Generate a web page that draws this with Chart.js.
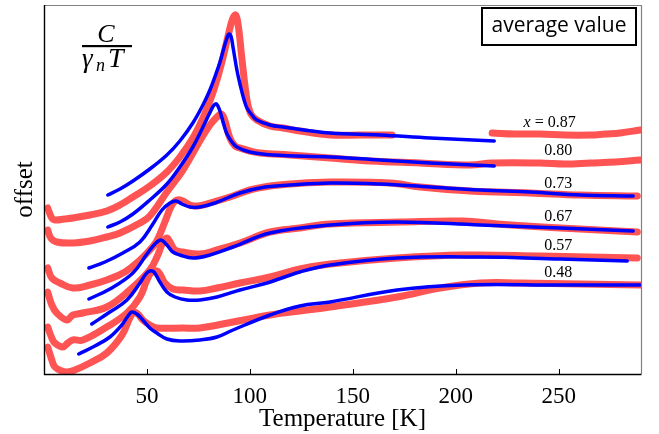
<!DOCTYPE html>
<html>
<head>
<meta charset="utf-8">
<script src="https://cdn.jsdelivr.net/npm/chart.js@4/dist/chart.umd.min.js"></script>
<style>
  html, body { margin: 0; padding: 0; background: #fff; }
  #wrap { width: 659px; height: 434px; }
</style>
</head>
<body>
<div id="wrap"><canvas id="c" width="659" height="434"></canvas></div>
<script>
// ---- data: [Temperature (K), offset C/(gamma_n T)] ----
const tickValues = [50, 100, 150, 200, 250];
const seriesNames = ['0.87', '0.80', '0.73', '0.67', '0.57', '0.48'];

const data087 = [[1.8,16.6],[3.8,15.6],[5.3,15.4],[10,15.5],[14,15.6],[22.3,15.9],[30.5,16.3],[36.9,16.9],[43.2,17.7],[51.4,18.8],[59.7,20.2],[66,21.7],[72.3,23.6],[77.2,25.6],[80.6,27.3],[84,29.4],[86.9,31.6],[89.4,33.8],[91.6,35.5],[93.1,35.9],[94.4,34.8],[96.2,31.4],[98.6,27.4],[100.5,26.0],[103.4,25.4],[109.8,24.8],[116.1,24.6],[124.3,24.3],[139,23.9],[153.6,23.9],[169.1,23.9],[190,null],[217.7,24.1],[228.9,24.0],[241,24.0],[253.2,23.9],[265.3,23.9],[272.6,24.0],[279.9,24.1],[289.6,24.4]];
const fit087 = [[31,17.9],[36.9,18.5],[43.2,19.3],[51.4,20.5],[59.7,21.9],[66,23.3],[72.3,25.1],[77.2,26.9],[80.6,28.4],[83.5,30.0],[85.5,31.2],[87.4,32.6],[88.9,33.6],[89.8,34.0],[90.8,33.8],[91.8,32.7],[93.7,30.4],[95.2,29.0],[97.2,27.4],[98.6,26.6],[101,25.9],[103.4,25.4],[109.8,24.9],[116.1,24.7],[139,24.1],[163.2,23.9],[187.6,23.6],[218.7,23.3]];

const data080 = [[1.8,14.4],[3.3,13.6],[6.2,13.2],[14,13.1],[22.3,13.3],[30.5,13.7],[36.9,14.1],[46.6,15.1],[51.4,15.8],[59.7,18.2],[67.5,20.4],[75.7,23.3],[80.6,24.9],[84,25.7],[86,26.0],[87.6,25.5],[90.3,23.6],[92.8,22.8],[95.2,22.6],[100,22.3],[104.9,22.1],[119.5,21.9],[139,21.6],[158.4,21.3],[182.7,21.1],[207,20.9],[217.7,21.1],[241,21.1],[253.2,21.0],[265.3,21.1],[277.5,21.2],[289.6,21.4]];
const fit080 = [[31,14.7],[36.9,15.2],[43.2,16.0],[51.4,17.4],[59.7,19.0],[66,20.7],[72.3,22.7],[77,24.6],[80.5,26.1],[82.6,26.9],[83.8,27.0],[85.3,26.4],[87.4,24.9],[88.9,24.0],[91.3,23.2],[93.7,22.7],[100,22.2],[111.2,21.9],[139,21.7],[163.2,21.4],[187.6,21.1],[218.7,20.8]];

const data073 = [[1.8,10.6],[3.8,9.6],[7.7,9.1],[14,8.6],[22.3,8.9],[30.5,9.4],[39.3,10.2],[46.6,11.4],[51.4,12.4],[54.8,13.3],[58.7,15.2],[62.1,16.9],[64.6,17.4],[67.5,17.3],[70.9,16.9],[74.8,16.8],[80.6,17.1],[91.8,17.8],[100,18.4],[109.8,18.8],[119.5,19.0],[139,19.2],[168.1,19.1],[182.7,18.7],[207,18.3],[236.2,18.1],[260.5,17.9],[288.2,17.8]];
const fit073 = [[21.8,10.6],[29.6,11.2],[38.3,12.1],[46.6,13.2],[52.9,15.0],[57.3,16.4],[61.2,17.1],[64.1,17.3],[67,17.0],[70.9,16.7],[75.7,16.7],[83,17.1],[95.2,18.1],[107.3,18.7],[119.5,18.9],[139,19.1],[163.2,19.0],[187.6,18.7],[211.9,18.4],[236.2,18.2],[260.5,17.9],[286.2,17.8]];

const data067 = [[1.8,8.2],[3.8,6.9],[6.2,6.1],[11.1,5.4],[14,5.9],[18.9,6.1],[30.5,6.7],[41.7,8.4],[51.4,10.4],[55.3,11.9],[57.8,13.2],[59.7,13.6],[61.2,13.2],[63.6,12.4],[67.5,12.2],[75.7,12.0],[84,12.4],[95.2,13.1],[109.8,14.2],[124.3,14.6],[139,15.0],[173.1,15.2],[203.6,15.3],[220.1,15.0],[250.8,14.6],[288.2,14.2]];
const fit067 = [[21.8,7.5],[32,8.5],[43.2,10.1],[50,12.0],[53.9,13.0],[56.8,13.4],[59.7,12.9],[62.6,12.2],[66,11.9],[72.3,11.6],[80.6,11.9],[91.8,12.7],[109.8,14.1],[139,14.9],[171.5,15.2],[211.9,14.9],[250.8,14.6],[286.2,14.3]];

const data057 = [[1.8,4.7],[3.8,3.6],[5.3,3.1],[9.1,2.7],[11.6,3.1],[14,3.4],[18.9,3.4],[30.5,4.7],[40.3,6.1],[46.6,7.7],[50,9.4],[52.4,10.2],[54.8,10.3],[56.3,10.0],[58.7,9.1],[62.6,8.5],[67.5,8.4],[75.7,8.3],[84,8.6],[95.2,9.1],[109.8,9.7],[124.3,10.5],[139,11.0],[171.5,11.6],[203.6,11.9],[241,11.8],[288.2,11.6]];
const fit057 = [[23.2,5.0],[32,6.2],[40.3,7.4],[46.6,9.1],[49.5,10.0],[51.4,10.3],[53.4,10.2],[56.3,9.2],[59.7,8.2],[63.6,7.7],[69.4,7.4],[75.7,7.4],[84,7.7],[95.2,8.4],[108.3,9.1],[124.3,10.2],[139,10.9],[171.5,11.6],[211.9,11.7],[250.8,11.5],[283.3,11.3]];

const data048 = [[1.8,2.7],[3.8,1.4],[5.3,0.7],[8.7,0.3],[11.1,0.2],[15,0.4],[22.3,1.1],[30.5,2.1],[37.9,3.9],[41.7,5.6],[43.6,6.2],[45.6,6.0],[48,5.4],[51.4,4.9],[54.8,4.6],[67.5,4.6],[75.7,4.6],[91.8,5.2],[109.8,5.9],[124.3,6.3],[139,6.7],[171.5,7.7],[192.4,8.6],[211.9,9.1],[231.3,9.1],[260.5,9.0],[289.6,8.9]];
const fit048 = [[16.9,2.0],[24.7,2.8],[32,3.7],[37.8,4.9],[40.8,5.8],[42.7,6.2],[45.1,6.0],[48,5.4],[51.4,4.6],[54.8,4.1],[59.7,3.5],[66,3.3],[75.7,3.4],[84,3.7],[91.8,4.4],[109.8,5.9],[124.3,6.8],[139,7.2],[171.5,8.4],[203.6,8.9],[250.8,8.9],[289.6,8.9]];

// label anchor values (T, offset) for the composition labels
const labelT = [251.5, 249.8, 249.8, 249.8, 249.8, 249.8];
const labelY = [25.1, 22.3, 19.0, 15.7, 12.8, 10.1];

const measured = [data087, data080, data073, data067, data057, data048];
const fits = [fit087, fit080, fit073, fit067, fit057, fit048];

const RED = 'rgb(255,84,84)';
const BLUE = '#0000ff';
const toXY = arr => arr.map(p => ({x: p[0], y: p[1]}));

const datasets = [];
measured.forEach((d, i) => {
  datasets.push({
    label: 'x = ' + seriesNames[i] + ' data',
    data: toXY(d), borderColor: RED, backgroundColor: RED,
    borderWidth: 7, pointRadius: 0, borderCapStyle: 'round', borderJoinStyle: 'round',
    tension: 0.4, spanGaps: false, order: 2
  });
});
fits.forEach((d, i) => {
  datasets.push({
    label: 'x = ' + seriesNames[i] + ' fit',
    data: toXY(d), borderColor: BLUE, backgroundColor: BLUE,
    borderWidth: 3.5, pointRadius: 0, borderCapStyle: 'round', borderJoinStyle: 'round',
    tension: 0.4, order: 1
  });
});

const decor = {
  id: 'decor',
  afterDatasetsDraw(chart) {
    const {ctx, chartArea: a, scales: {x, y}} = chart;
    ctx.save();
    // frame
    ctx.lineCap = 'butt';
    ctx.strokeStyle = '#808080'; ctx.lineWidth = 1.2;
    ctx.beginPath(); ctx.moveTo(a.left, a.top + 0.5); ctx.lineTo(a.right + 0.5, a.top + 0.5); ctx.lineTo(a.right + 0.5, a.bottom); ctx.stroke();
    ctx.strokeStyle = '#000'; ctx.lineWidth = 1.4;
    ctx.beginPath(); ctx.moveTo(a.left + 0.5, a.top); ctx.lineTo(a.left + 0.5, a.bottom + 0.5); ctx.lineTo(a.right + 0.5, a.bottom + 0.5); ctx.stroke();
    // inward ticks
    ctx.lineWidth = 1;
    tickValues.forEach(v => {
      const px = Math.round(x.getPixelForValue(v)) + 0.5;
      ctx.beginPath(); ctx.moveTo(px, a.bottom); ctx.lineTo(px, a.bottom - 5); ctx.stroke();
    });
    // composition labels
    ctx.fillStyle = '#000';
    ctx.textBaseline = 'middle';
    seriesNames.forEach((s, i) => {
      const cx = x.getPixelForValue(labelT[i]);
      const cy = y.getPixelForValue(labelY[i]);
      ctx.font = '16px "Liberation Serif"';
      const numW = ctx.measureText(s).width;
      ctx.textAlign = 'left';
      ctx.fillText(s, cx - numW / 2, cy);
      if (i === 0) {
        const eq = ' = ';
        const eqW = ctx.measureText(eq).width;
        ctx.fillText(eq, cx - numW / 2 - eqW, cy);
        ctx.font = 'italic 16px "Liberation Serif"';
        const xW = ctx.measureText('x').width;
        ctx.fillText('x', cx - numW / 2 - eqW - xW, cy);
      }
    });
    // fraction C / (gamma_n T)
    ctx.textAlign = 'center';
    ctx.textBaseline = 'alphabetic';
    ctx.font = 'italic 26px "Liberation Serif"';
    ctx.fillText('C', 106, 42);
    ctx.fillRect(82, 45, 50, 2.2);
    ctx.textAlign = 'left';
    ctx.font = 'italic 27px "Liberation Serif"';
    ctx.fillText('\u03b3', 82, 67);
    ctx.font = 'italic 18px "Liberation Serif"';
    ctx.fillText('n', 96, 71);
    ctx.font = 'italic 28px "Liberation Serif"';
    ctx.fillText('T', 108, 67);
    // legend box
    ctx.fillStyle = '#fff';
    ctx.fillRect(481, 7, 156, 39);
    ctx.strokeStyle = '#000'; ctx.lineWidth = 2;
    ctx.strokeRect(482, 8, 154, 37);
    ctx.fillStyle = '#000';
    ctx.font = '21px "Open Sans"';
    ctx.textAlign = 'center'; ctx.textBaseline = 'middle';
    ctx.fillText('average value', 559, 26);
    ctx.restore();
  }
};

new Chart(document.getElementById('c'), {
  type: 'line',
  data: { datasets },
  options: {
    responsive: false, animation: false,
    layout: { padding: { left: 0, right: 18, top: 5, bottom: 0 } },
    plugins: { legend: { display: false }, tooltip: { enabled: false } },
    scales: {
      x: {
        type: 'linear', min: 0, max: 290,
        grid: { display: false, drawTicks: false }, border: { display: false },
        afterBuildTicks: s => { s.ticks = tickValues.map(v => ({ value: v })); },
        afterFit: s => { s.height = 60; },
        ticks: { color: '#000', padding: 9, maxRotation: 0, font: { family: 'Liberation Serif', size: 23 } },
        title: { display: true, text: 'Temperature [K]', color: '#000', padding: { top: 0, bottom: 0 }, font: { family: 'Liberation Serif', size: 25 } }
      },
      y: {
        type: 'linear', min: 0, max: 36.9,
        grid: { display: false, drawTicks: false }, border: { display: false },
        ticks: { display: false },
        afterFit: s => { s.width = 44; },
        title: { display: true, text: 'offset', color: '#000', padding: { top: 10, bottom: 0 }, font: { family: 'Liberation Serif', size: 25 } }
      }
    }
  },
  plugins: [decor]
});
</script>
</body>
</html>
